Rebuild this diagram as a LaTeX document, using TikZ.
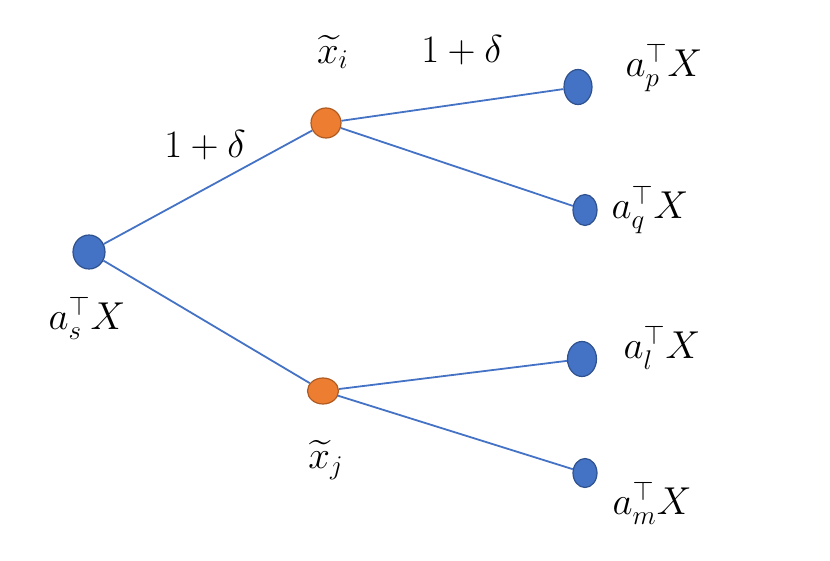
\documentclass[tikz,border=0pt]{standalone}
\usepackage{amsmath}
\usetikzlibrary{shapes.geometric}
\definecolor{nodeblue}{HTML}{4472C4}
\definecolor{nodeblueb}{HTML}{2F528F}
\definecolor{nodeor}{HTML}{ED7D31}
\definecolor{nodeorb}{HTML}{AE5A21}
\tikzset{
  bdot/.style={ellipse,draw=nodeblueb,fill=nodeblue,line width=1.2pt,inner sep=0pt},
  odot/.style={ellipse,draw=nodeorb,fill=nodeor,line width=1.2pt,inner sep=0pt},
  edge/.style={draw=nodeblue,line width=1.8pt},
  lab/.style={font=\LARGE,scale=2.25,inner sep=0pt}
}
\begin{document}
\begin{tikzpicture}[x=1pt,y=-1pt]
\useasboundingbox (0,0) rectangle (830,561);
\node[bdot,minimum width=32pt,minimum height=34pt] (s) at (89,252) {};
\node[odot,minimum width=30pt,minimum height=30pt] (i) at (326,123) {};
\node[odot,minimum width=31pt,minimum height=26pt] (j) at (323,391) {};
\node[bdot,minimum width=28pt,minimum height=35pt] (p) at (578,87) {};
\node[bdot,minimum width=24pt,minimum height=31pt] (q) at (585,210) {};
\node[bdot,minimum width=29pt,minimum height=35pt] (l) at (582,359) {};
\node[bdot,minimum width=24pt,minimum height=29pt] (m) at (585,473) {};
\draw[edge] (s) -- (i);
\draw[edge] (s) -- (j);
\draw[edge] (i) -- (p);
\draw[edge] (i) -- (q);
\draw[edge] (j) -- (l);
\draw[edge] (j) -- (m);
\node[lab] (d1) at (205,145) {$1+\delta$};
\node[lab] (d2) at (462,50) {$1+\delta$};
\node[lab] (xi) at (333,52) {$\widetilde{x}_i$};
\node[lab] (xj) at (326,460) {$\widetilde{x}_j$};
\node[lab] (ls) at (87,318) {$a_s^{\top}X$};
\node[lab] (lp) at (664,68) {$a_p^{\top}X$};
\node[lab] (lq) at (650,210) {$a_q^{\top}X$};
\node[lab] (ll) at (662,348) {$a_l^{\top}X$};
\node[lab] (lm) at (652,503) {$a_m^{\top}X$};
\end{tikzpicture}
\end{document}
